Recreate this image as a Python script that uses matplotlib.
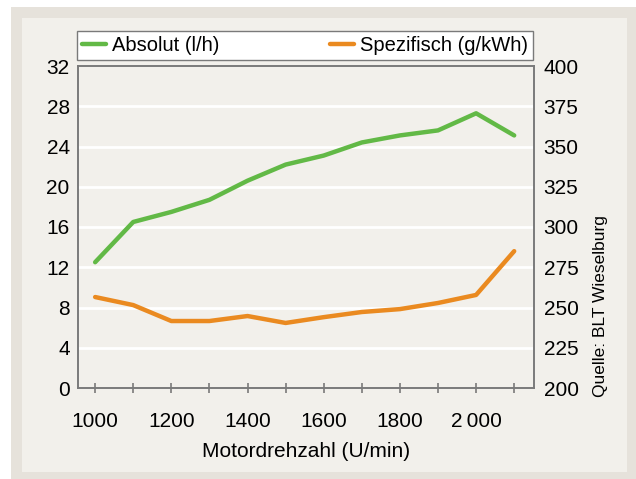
import numpy as np
import matplotlib
matplotlib.use("Agg")
from matplotlib import pyplot as plt
from matplotlib.patches import Rectangle

plt.rcParams['font.family'] = ['Liberation Sans', 'DejaVu Sans']

# Motordrehzahl (U/min)
drehzahl = [1000, 1100, 1200, 1300, 1400, 1500, 1600, 1700, 1800, 1900, 2000, 2100]
# Verbrauch absolut (l/h), linke Achse
absolut = [12.5, 16.5, 17.5, 18.7, 20.6, 22.2, 23.1, 24.4, 25.1, 25.6, 27.3, 25.1]
# spezifischer Verbrauch (g/kWh), rechte Achse
spezifisch = [256.5, 251.5, 241.6, 241.6, 244.7, 240.4, 244.0, 247.2, 249.0, 252.8, 257.8, 285.0]

x_ticks = [1000, 1200, 1400, 1600, 1800, 2000]
x_labels = ['1000', '1200', '1400', '1600', '1800', '2\u2009000']
y_left = [0, 4, 8, 12, 16, 20, 24, 28, 32]
y_right = [200, 225, 250, 275, 300, 325, 350, 375, 400]

green = '#62b946'
orange = '#ea8a20'
spine_col = '#7a7a7a'

W, H = 636, 479
fig = plt.figure(figsize=(W / 100, H / 100), dpi=100, facecolor='white')

# Rahmen
fig.patches.append(Rectangle((11 / W, 0), (W - 11) / W, (H - 7) / H,
                             transform=fig.transFigure, facecolor='#e6e2db',
                             edgecolor='none', zorder=-2))
fig.patches.append(Rectangle((22 / W, 7 / H), (627 - 22) / W, (472 - 18) / H,
                             transform=fig.transFigure, facecolor='#f2f0eb',
                             edgecolor='none', zorder=-1))

ax = fig.add_axes([78 / W, (H - 388) / H, (534 - 78) / W, (388 - 66) / H])
ax.set_facecolor('#f2f0eb')
ax2 = ax.twinx()

l1, = ax.plot(drehzahl, absolut, color=green, lw=3.2, solid_capstyle='round',
              solid_joinstyle='round', label='Absolut (l/h)')
l2, = ax2.plot(drehzahl, spezifisch, color=orange, lw=3.2, solid_capstyle='round',
               solid_joinstyle='round', label='Spezifisch (g/kWh)')

ax.set_xlim(955, 2152)
ax.set_ylim(0, 32)
ax2.set_ylim(200, 400)
ax.set_yticks(y_left)
ax2.set_yticks(y_right)
ax.set_xticks(x_ticks)
ax.set_xticklabels(x_labels)
ax.set_xticks(drehzahl, minor=True)

for y in y_left[1:-1]:
    ax.axhline(y, color='white', lw=2, zorder=0)

for a in (ax, ax2):
    for s in a.spines.values():
        s.set_color(spine_col)
        s.set_linewidth(1.2)

ax.tick_params(axis='y', length=0, pad=6, labelsize=15)
ax2.tick_params(axis='y', length=0, pad=7, labelsize=15)
ax.tick_params(axis='x', which='both', direction='inout', length=7, width=1.2,
               color=spine_col, pad=14, labelsize=15)

ax.set_xlabel('Motordrehzahl (U/min)', fontsize=15, labelpad=8)

ax.legend(handles=[l1, l2], ncol=2, mode='expand', loc='lower left',
          bbox_to_anchor=(-0.002, 1.019, 1.0, 0.09), borderaxespad=0,
          fancybox=False, framealpha=1, facecolor='white', edgecolor=spine_col,
          handlelength=1.2, handletextpad=0.3, fontsize=14.5, borderpad=0.25)

fig.text(601 / W, (H - 306) / H, 'Quelle: BLT Wieselburg', rotation=90,
         ha='center', va='center', fontsize=12.5)

fig.savefig('out.png', dpi=100, facecolor='white')
